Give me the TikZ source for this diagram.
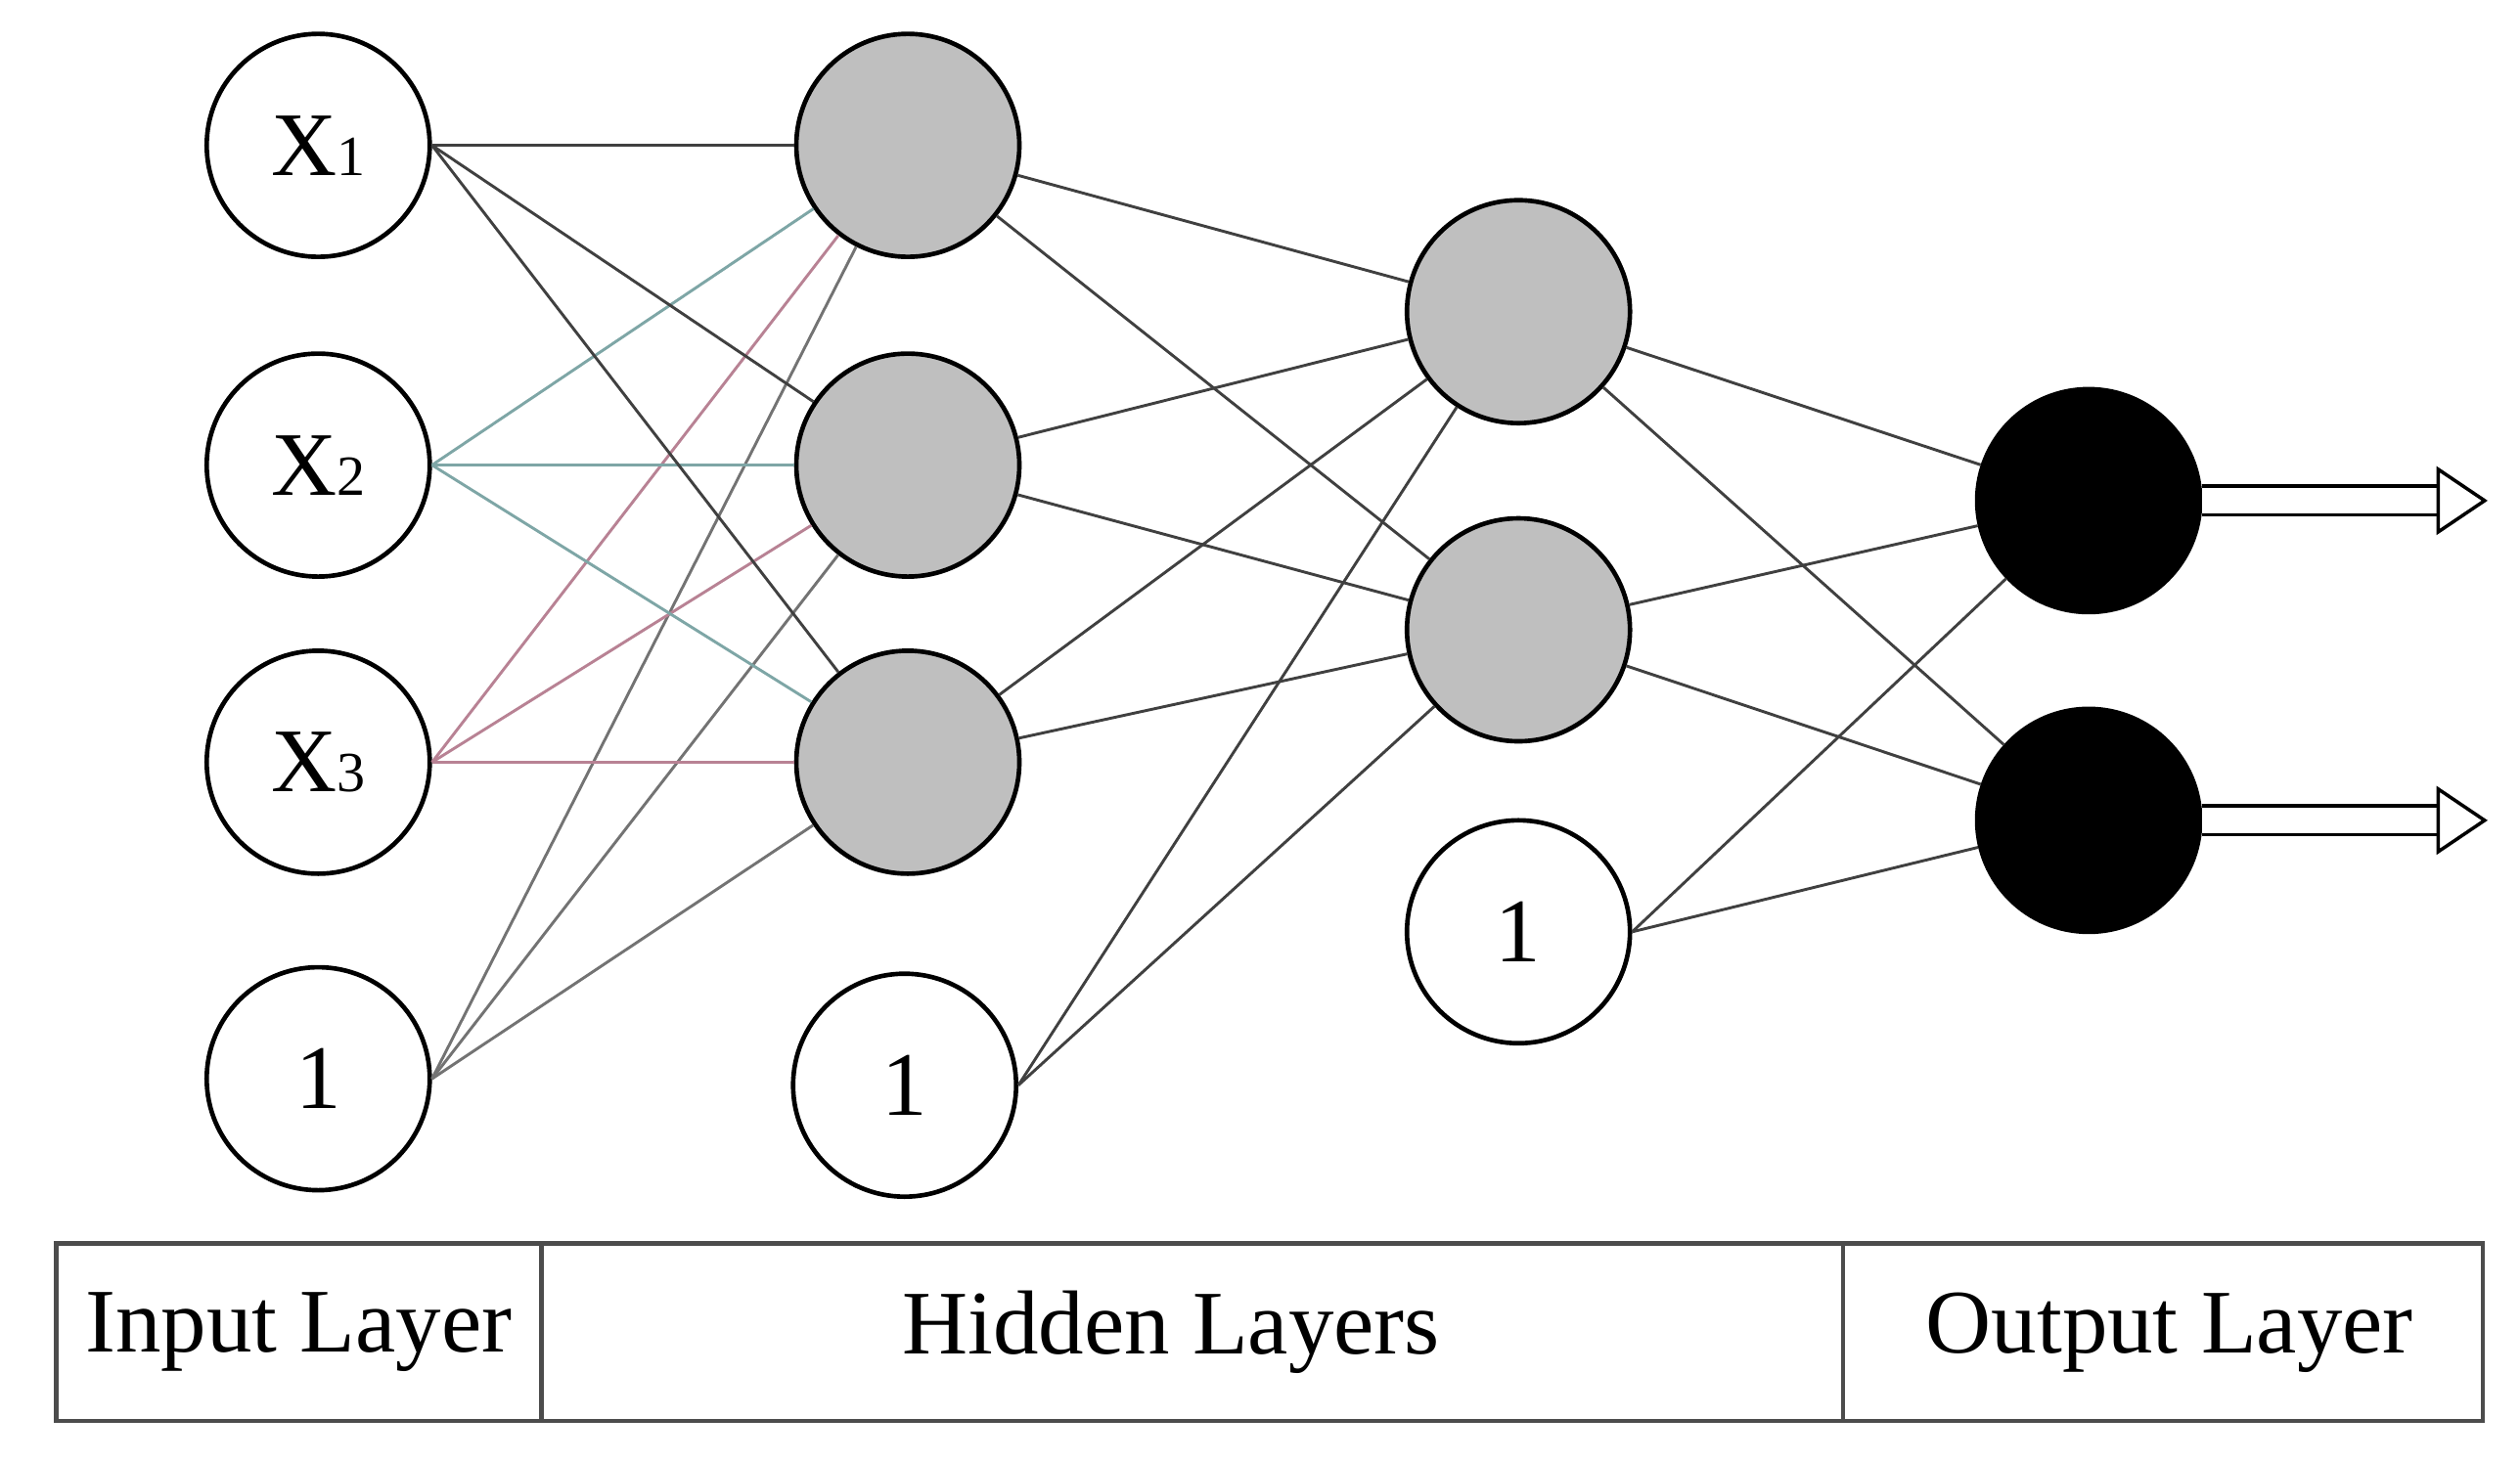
\documentclass[tikz,border=0pt]{standalone}
\usepackage{fontspec}
\setmainfont{Liberation Serif}
\usetikzlibrary{arrows.meta}
\begin{document}
\begin{tikzpicture}[x=0.01cm,y=-0.01cm,
  neu/.style={circle,draw,line width=0.8pt,minimum size=1.38cm,inner sep=0pt,font=\fontsize{16}{18}\selectfont},
  hid/.style={neu,fill=gray!50},
  outn/.style={neu,fill=black},
  ed/.style={line width=0.5pt,draw=black!75},
  outarr/.style={double,double distance=4.5pt,line width=0.6pt,-{Triangle[open,length=9pt,width=12pt]}},
  lab/.style={font=\fontsize{16}{19}\selectfont}]
\useasboundingbox (0,0) rectangle (1560,905);
\newcommand{\xs}[1]{X{\fontsize{10}{10}\selectfont #1}}
\node[neu] (x1) at (197,90) {\xs{1}};
\node[neu] (x2) at (197,288) {\xs{2}};
\node[neu] (x3) at (197,472) {\xs{3}};
\node[neu] (b0) at (197,668) {1};
\node[hid] (h1) at (562,90) {};
\node[hid] (h2) at (562,288) {};
\node[hid] (h3) at (562,472) {};
\node[neu] (b1) at (560,672) {1};
\node[hid] (g1) at (940,193) {};
\node[hid] (g2) at (940,390) {};
\node[neu] (b2) at (940,577) {1};
\node[outn] (o1) at (1293,310) {};
\node[outn] (o2) at (1293,508) {};
\coordinate (e1) at (1540,310);
\coordinate (e2) at (1540,508);
\foreach \h in {h1,h2,h3}{
  \draw[ed] (x1.east) -- (\h);
  \draw[ed,draw=teal!45!gray!70] (x2.east) -- (\h);
  \draw[ed,draw=purple!40!gray!70] (x3.east) -- (\h);
  \draw[ed,draw=black!55] (b0.east) -- (\h);
  \foreach \g in {g1,g2}{\draw[ed] (\h) -- (\g);}
}
\foreach \g in {g1,g2}{
  \draw[ed] (b1.east) -- (\g);
  \foreach \o in {o1,o2}{\draw[ed] (\g) -- (\o);}
}
\draw[ed] (b2.east) -- (o1); \draw[ed] (b2.east) -- (o2);
\draw[outarr] (o1.east) -- (e1);
\draw[outarr] (o2.east) -- (e2);
\draw[line width=0.8pt,draw=black!70] (35,770) rectangle (1537,880);
\draw[line width=0.8pt,draw=black!70] (335,770) -- (335,880) (1141,770) -- (1141,880);
\node[lab] (l1) at (185,825) {Input Layer};
\node[lab] (l2) at (725,825) {Hidden Layers};
\node[lab] (l3) at (1343,825) {Output Layer};
\end{tikzpicture}
\end{document}
